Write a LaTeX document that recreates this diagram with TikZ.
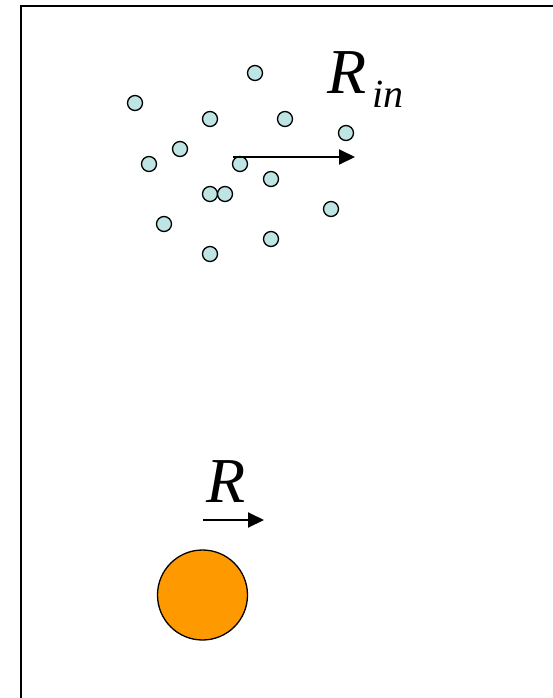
\documentclass[tikz,border=0pt]{standalone}
\usepackage{fontspec}
\setmainfont{Liberation Serif}
\usetikzlibrary{arrows.meta}
\definecolor{dotfill}{RGB}{190,228,228}
\definecolor{ballfill}{RGB}{255,153,0}
\tikzset{
  dot/.style={circle, draw=black, line width=1.3pt, fill=dotfill, minimum size=15pt, inner sep=0pt},
  ball/.style={circle, draw=black, line width=1.3pt, fill=ballfill, minimum size=90pt, inner sep=0pt},
  vec/.style={line width=2pt, -{Triangle[length=16pt,width=15pt]}},
  bigtext/.style={font=\fontsize{64}{64}\selectfont\itshape, inner sep=0pt, anchor=base west},
  subtext/.style={font=\fontsize{40}{40}\selectfont\itshape, inner sep=0pt, anchor=base west}
}
\begin{document}
\begin{tikzpicture}[x=1pt,y=-1pt]
\useasboundingbox (0,0) rectangle (553,698);
\draw[line width=2pt] (21,698) -- (21,6) -- (553,6);
\foreach \n/\x/\y in {1/255/73, 2/135/103, 3/210/119, 4/285/119, 5/346/133,
  6/180/149, 7/149/164, 8/240/164, 9/271/179, 10/210/194, 11/225/194,
  12/331/209, 13/164/224, 14/271/239, 15/210/254}
  \node[dot] (d\n) at (\x,\y) {};
\coordinate (a1s) at (233,157);
\coordinate (a1e) at (355,157);
\draw[vec] (a1s) -- (a1e);
\node[bigtext] (Rin) at (327,94) {R};
\node[subtext] (in) at (372,107) {in};
\node[bigtext] (R) at (206,502) {R};
\coordinate (a2s) at (203,520);
\coordinate (a2e) at (264,520);
\draw[vec] (a2s) -- (a2e);
\node[ball] (b) at (202.5,595) {};
\end{tikzpicture}
\end{document}
